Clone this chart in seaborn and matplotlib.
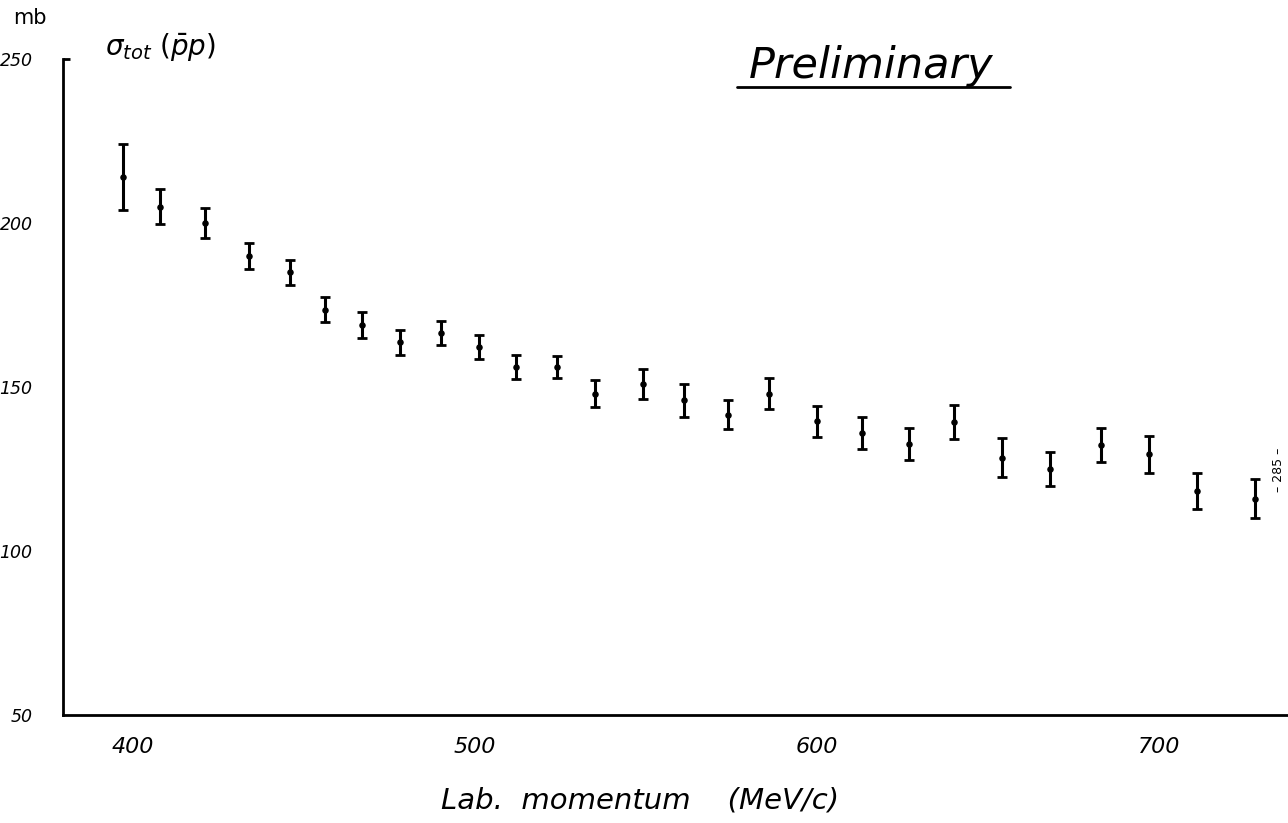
import matplotlib
matplotlib.use("Agg")
import matplotlib.pyplot as plt
import seaborn as sns
import pandas as pd
from matplotlib.lines import Line2D

# Data
momentum = [397, 408, 421, 434, 446, 456, 467, 478, 490, 501, 512, 524, 535,
            549, 561, 574, 586, 600, 613, 627, 640, 654, 668, 683, 697, 711, 728]
sigma_tot = [214, 205, 200, 190, 185, 173.5, 169, 163.7, 166.5, 162.2, 156, 156, 148,
             151, 146, 141.5, 148, 139.5, 136, 132.6, 139.3, 128.5, 125, 132.3, 129.5, 118.3, 116]
sigma_err = [10, 5.4, 4.5, 4, 3.8, 3.8, 4, 3.8, 3.7, 3.7, 3.7, 3.4, 4.1,
             4.6, 5, 4.4, 4.7, 4.6, 5, 4.9, 5.3, 6, 5.3, 5.2, 5.6, 5.6, 6]
x_ticks_minor = list(range(400, 721, 20))
x_tick_labels = [400, 500, 600, 700]
y_tick_labels = [50, 100, 150, 200, 250]

df = pd.DataFrame({"p": momentum, "s": sigma_tot, "e": sigma_err})

sns.set_theme(style="white")
plt.rcParams['font.family'] = ['DejaVu Sans']
plt.rcParams['text.color'] = 'black'
plt.rcParams['xtick.color'] = 'black'
plt.rcParams['ytick.color'] = 'black'
plt.rcParams['axes.labelcolor'] = 'black'

fig = plt.figure(figsize=(12.88, 8.23), dpi=100)
ax = fig.add_axes([63/1288, 1 - 715/823, 1 - 63/1288, (715 - 59)/823])

ax.errorbar(df["p"], df["s"], yerr=df["e"], fmt="none", ecolor="black",
            elinewidth=2.2, capsize=3.5, capthick=2)
sns.scatterplot(data=df, x="p", y="s", ax=ax, color="black", s=22,
                edgecolor="black", linewidth=0, legend=False)

ax.set_xlim(379.5, 737.7)
ax.set_ylim(50, 250)

for side in ["top", "right"]:
    ax.spines[side].set_visible(False)
for side in ["left", "bottom"]:
    ax.spines[side].set_color("black")
    ax.spines[side].set_linewidth(2)

ax.set_xticks(x_ticks_minor)
ax.set_xticklabels([str(v) if v in x_tick_labels else "" for v in x_ticks_minor],
                   fontsize=16, fontstyle="italic", color="black")
ax.tick_params(axis="x", direction="in", length=5, width=2, color="black", pad=16)
ax.set_yticks(y_tick_labels)
ax.set_yticklabels([str(v) for v in y_tick_labels], fontsize=12.5,
                   fontstyle="italic", color="black")
ax.tick_params(axis="y", length=0, pad=22)
# small inward tick at the top of the y axis
ax.plot([379.5, 381.5], [250, 250], color="black", lw=2, clip_on=False,
        solid_capstyle="butt")

ax.set_xlabel("")
ax.set_ylabel("")
ax.grid(False)

fig.text(30/1288, 1 - 18/823, "mb", fontsize=15, ha="center", va="center")
fig.text(105/1288, 1 - 47/823, r"$\sigma_{tot}$ $(\bar{p}p)$", fontsize=20,
         ha="left", va="center", fontstyle="italic")
fig.text(871/1288, 1 - 66/823, "Preliminary", fontsize=31, fontstyle="italic",
         ha="center", va="center")
fig.add_artist(Line2D([737/1288, 1010/1288], [1 - 87/823, 1 - 87/823],
                      color="black", lw=2))
fig.text(640/1288, 1 - 800/823, "Lab.  momentum    (MeV/c)", fontsize=21,
         fontstyle="italic", ha="center", va="center")
fig.text(1279/1288, 1 - 470/823, "– 285 –", fontsize=9, rotation=90,
         ha="center", va="center")

fig.savefig("out.png", dpi=100)
